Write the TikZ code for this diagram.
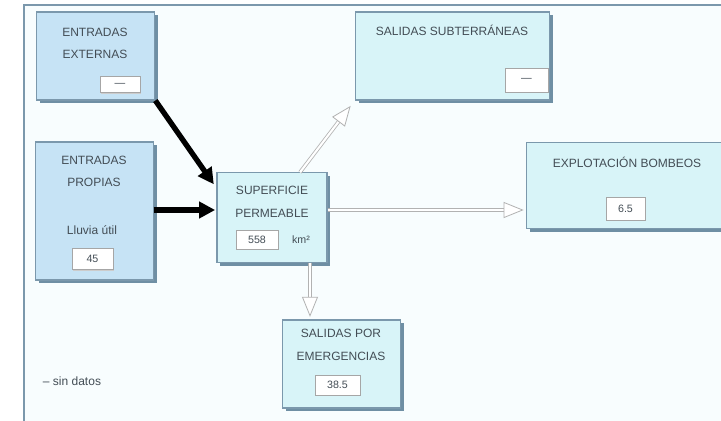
\documentclass[tikz,border=0pt]{standalone}
\usepackage{fontspec}
\setmainfont{Liberation Sans}
\usetikzlibrary{positioning,shadows,arrows.meta}

\definecolor{boxline}{HTML}{7B98AC}
\definecolor{boxfill}{HTML}{D8F4F8}
\definecolor{boxfillb}{HTML}{C6E3F5}
\definecolor{boxshadow}{HTML}{6F8FA4}
\definecolor{panel}{HTML}{F8FDFE}
\definecolor{txt}{HTML}{434D55}

\tikzset{
  caja/.style={draw=boxline, fill=boxfill, line width=0.8pt, inner sep=0pt,
    drop shadow={shadow xshift=2.5pt, shadow yshift=-2.5pt, fill=boxshadow, opacity=1}},
  valor/.style={draw=gray!70, fill=white, font=\fontsize{8}{9}\selectfont, text=txt,
    inner sep=0pt, minimum height=12pt,
    drop shadow={shadow xshift=0.8pt, shadow yshift=-0.8pt, fill=gray!40, opacity=1}},
  rotulo/.style={font=\fontsize{9}{17}\selectfont, text=txt, align=center, inner sep=0pt},
  entrada/.style={line width=4pt, -{Triangle[length=12pt,width=12pt]}},
  salida/.style={draw=gray!60, double=white, double distance=1.6pt, line width=0.6pt,
    -{Triangle[open, fill=white, length=15pt, width=12pt]}},
}

\begin{document}
\begin{tikzpicture}[x=0.75pt, y=-0.75pt]
  \useasboundingbox (0,0) rectangle (721,421);
  %panel
  \fill[white] (0,0) rectangle (721,421);
  \fill[panel] (24,5) rectangle (721,421);
  \draw[boxline, line width=0.8pt] (24,421) -- (24,5) -- (721,5);

  %boxes
  \node[caja, fill=boxfillb, minimum width=89pt, minimum height=66pt] (ext) at (95.5,56) {};
  \node[caja, fill=boxfillb, minimum width=88pt, minimum height=103.5pt] (prop) at (94.5,211) {};
  \node[caja, minimum width=82.5pt, minimum height=67pt] (sup) at (272,217.5) {};
  \node[caja, minimum width=146pt, minimum height=66pt] (subt) at (452.5,56) {};
  \node[caja, minimum width=160pt, minimum height=64pt] (expl) at (633.5,185.5) {};
  \node[caja, minimum width=88pt, minimum height=66pt] (emer) at (341.5,364) {};

  %texts
  \node[rotulo] (extT) at (95,43.5) {ENTRADAS\\EXTERNAS};
  \node[rotulo] (propT) at (94,171.5) {ENTRADAS\\PROPIAS};
  \node[rotulo] (lluvia) at (92,230) {Lluvia útil};
  \node[rotulo] (supT) at (272,202) {SUPERFICIE\\PERMEABLE};
  \node[rotulo] (subtT) at (452,30) {SALIDAS SUBTERRÁNEAS};
  \node[rotulo] (explT) at (627,162) {EXPLOTACIÓN BOMBEOS};
  \node[rotulo] (emerT) at (341,345) {SALIDAS POR\\EMERGENCIAS};
  \node[rotulo] (nota) at (72,381) {– sin datos};

  %values
  \node[valor, minimum width=30pt] (extV) at (120,84.5) {—};
  \node[valor, minimum width=31pt, minimum height=16pt] (propV) at (92.5,259) {45};
  \node[valor, minimum width=31.5pt, minimum height=14pt] (supV) at (257,240) {558};
  \node[rotulo, font=\fontsize{8}{9}\selectfont] (km) at (301,240) {km²};
  \node[valor, minimum width=32pt, minimum height=18pt] (subtV) at (526.5,80) {—};
  \node[valor, minimum width=29pt, minimum height=17pt] (explV) at (625.5,208.5) {6.5};
  \node[valor, minimum width=34pt, minimum height=15pt] (emerV) at (337.5,385) {38.5};

  %inputs
  \draw[entrada] (ext.south east) -- ([shift={(-2pt,-9pt)}]sup.north west);
  \draw[entrada] (prop.east |- 0,210) -- ([xshift=-1pt]sup.west |- 0,210);
  %outputs
  \coordinate (supB) at ([xshift=28.5pt]sup.south);
  \draw[salida] ([xshift=21pt]sup.north) -- ([shift={(-3pt,-4pt)}]subt.south west);
  \draw[salida] (sup.east |- 0,210) -- ([xshift=-2pt]expl.west |- 0,210);
  \draw[salida] (supB) -- ([yshift=2pt]supB |- emer.north);
\end{tikzpicture}
\end{document}
